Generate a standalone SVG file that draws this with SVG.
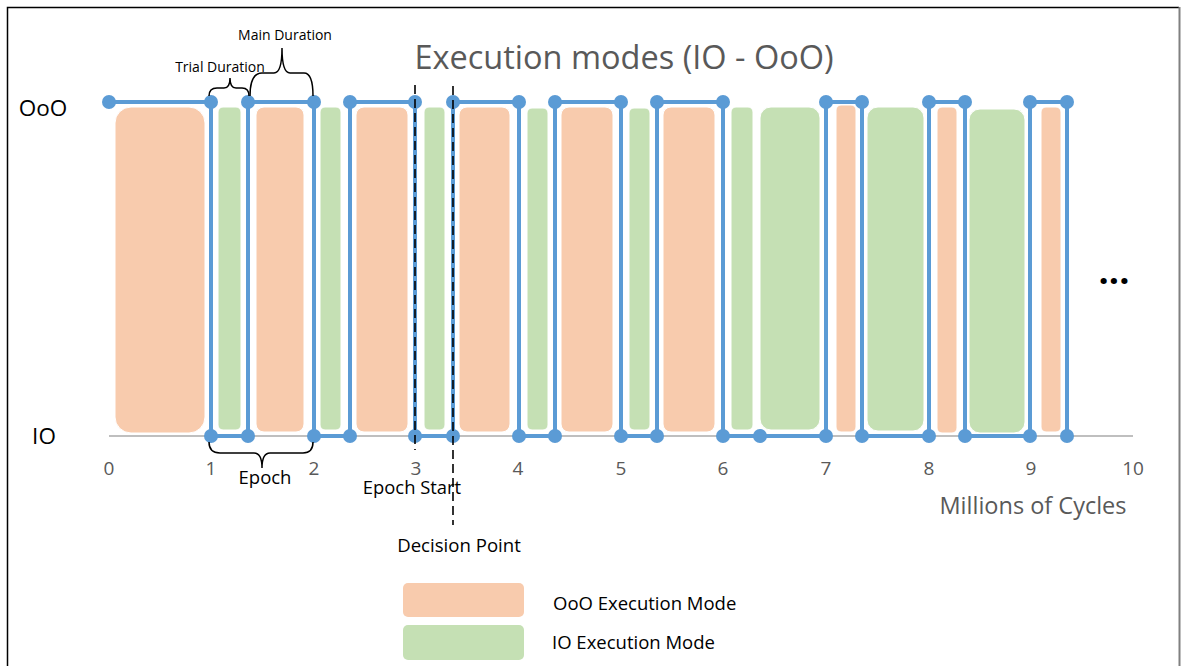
<svg xmlns="http://www.w3.org/2000/svg" width="1181" height="666" viewBox="0 0 1181 666">
<style>
.ooo{fill:#F8CBAD;stroke:#FFFFFF;stroke-width:1}
.io{fill:#C5E0B4;stroke:#FFFFFF;stroke-width:1}
.step{fill:none;stroke:#5B9BD5;stroke-width:4;stroke-linejoin:miter}
.dot{fill:#5B9BD5}
.brace{fill:none;stroke:#000;stroke-width:1.5}
.dash{fill:none;stroke:#000;stroke-width:1.6;stroke-dasharray:9 5}
.lbl{font-family:"Open Sans","Liberation Sans",sans-serif;fill:#000}
.gray{font-family:"Open Sans","Liberation Sans",sans-serif;fill:#595959}
</style>
<rect x="0" y="0" width="1181" height="666" fill="#FFFFFF"/>
<g id="frame">
<path d="M7.5,680 V7.5 H1179" fill="none" stroke="#000" stroke-width="1.5"/>
<line x1="1179.5" y1="7" x2="1179.5" y2="666" stroke="#808080" stroke-width="2"/>
</g>
<text id="title" class="gray" x="624" y="69" font-size="32.5" text-anchor="middle">Execution modes (IO - OoO)</text>
<g id="axis">
<line x1="109" y1="436" x2="1133" y2="436" stroke="#BFBFBF" stroke-width="2"/>
<g class="gray" font-size="19" text-anchor="middle">
<text x="109" y="475">0</text><text x="211" y="475">1</text><text x="314" y="475">2</text><text x="416" y="475">3</text><text x="518" y="475">4</text><text x="621" y="475">5</text><text x="723" y="475">6</text><text x="826" y="475">7</text><text x="929" y="475">8</text><text x="1031" y="475">9</text><text x="1133" y="475">10</text>
</g>
<text class="gray" x="1033" y="514" font-size="23.5" text-anchor="middle">Millions of Cycles</text>
<text class="lbl" x="43" y="116" font-size="22.5" text-anchor="middle">OoO</text>
<text class="lbl" x="44" y="444" font-size="22.5" text-anchor="middle">IO</text>
</g>
<g id="blocks">
<rect class="ooo" x="115" y="107" width="90" height="326" rx="16"/>
<rect class="io" x="218" y="107" width="23" height="323" rx="5"/>
<rect class="ooo" x="256" y="107" width="48" height="325" rx="8"/>
<rect class="io" x="320" y="107" width="21" height="323" rx="5"/>
<rect class="ooo" x="356" y="107" width="52" height="325" rx="8"/>
<rect class="io" x="424" y="107" width="21" height="323" rx="5"/>
<rect class="ooo" x="459" y="107" width="51" height="325" rx="8"/>
<rect class="io" x="527" y="108" width="21" height="322" rx="5"/>
<rect class="ooo" x="561" y="107" width="52" height="325" rx="8"/>
<rect class="io" x="629" y="108" width="21" height="322" rx="5"/>
<rect class="ooo" x="663" y="107" width="52" height="325" rx="8"/>
<rect class="io" x="731" y="107" width="22" height="323" rx="5"/>
<rect class="io" x="760" y="107" width="60" height="323" rx="11"/>
<rect class="ooo" x="836" y="105" width="20" height="327" rx="5"/>
<rect class="io" x="867" y="107" width="57" height="324" rx="11"/>
<rect class="ooo" x="937" y="107" width="20" height="326" rx="5"/>
<rect class="io" x="969" y="109" width="56" height="324" rx="11"/>
<rect class="ooo" x="1041" y="107" width="20" height="325" rx="5"/>
</g>
<g id="connectors">
<path class="step" d="M109,102 H211 V436 H248 V102 H314 V436 H350 V102 H415 V436 H453 V102 H519 V436 H555 V102 H621 V436 H657 V102 H723 V436 H826 V102 H862 V436 H929 V102 H965 V436 H1030 V102 H1067 V436"/>
</g>
<g id="dots" class="dot">
<circle cx="109" cy="102" r="7"/><circle cx="211" cy="102" r="7"/><circle cx="248" cy="102" r="7"/><circle cx="314" cy="102" r="7"/><circle cx="350" cy="102" r="7"/><circle cx="415" cy="102" r="7"/><circle cx="453" cy="102" r="7"/><circle cx="519" cy="102" r="7"/><circle cx="555" cy="102" r="7"/><circle cx="621" cy="102" r="7"/><circle cx="657" cy="102" r="7"/><circle cx="723" cy="102" r="7"/><circle cx="826" cy="102" r="7"/><circle cx="862" cy="102" r="7"/><circle cx="929" cy="102" r="7"/><circle cx="965" cy="102" r="7"/><circle cx="1030" cy="102" r="7"/><circle cx="1067" cy="102" r="7"/>
<circle cx="211" cy="436" r="7"/><circle cx="248" cy="436" r="7"/><circle cx="314" cy="436" r="7"/><circle cx="350" cy="436" r="7"/><circle cx="415" cy="436" r="7"/><circle cx="453" cy="436" r="7"/><circle cx="519" cy="436" r="7"/><circle cx="555" cy="436" r="7"/><circle cx="621" cy="436" r="7"/><circle cx="657" cy="436" r="7"/><circle cx="723" cy="436" r="7"/><circle cx="760" cy="436" r="7"/><circle cx="826" cy="436" r="7"/><circle cx="862" cy="436" r="7"/><circle cx="929" cy="436" r="7"/><circle cx="965" cy="436" r="7"/><circle cx="1030" cy="436" r="7"/><circle cx="1067" cy="436" r="7"/>
</g>
<g id="annotations">
<line class="dash" x1="415" y1="85" x2="415" y2="450"/>
<line class="dash" x1="453" y1="86" x2="453" y2="525"/>
<path class="brace" d="M209,96 Q209,88 217,88 H224 Q230,88 230,78 Q230,88 236,88 H242 Q249,88 249,96"/>
<path class="brace" d="M250,96 Q250,73 262,73 H274 Q282,73 282,48 Q282,73 290,73 H304 Q313,73 313,96"/>
<path class="brace" d="M209,442 Q209,453 220,453 H254 Q262,453 262,468 Q262,453 270,453 H303 Q313,453 313,442"/>
<text class="lbl" x="220" y="72" font-size="14" text-anchor="middle">Trial Duration</text>
<text class="lbl" x="285" y="40" font-size="14" text-anchor="middle">Main Duration</text>
<text class="lbl" x="265" y="484" font-size="18.5" text-anchor="middle">Epoch</text>
<text class="lbl" x="412" y="494" font-size="18.4" text-anchor="middle">Epoch Start</text>
<text class="lbl" x="459" y="552" font-size="18.6" text-anchor="middle">Decision Point</text>
<text class="lbl" x="1114" y="284" font-size="36" text-anchor="middle" font-weight="bold">...</text>
</g>
<g id="legend">
<rect x="403" y="583" width="121" height="34" rx="5" fill="#F8CBAD"/>
<rect x="403" y="625" width="121" height="35" rx="5" fill="#C5E0B4"/>
<text class="lbl" x="553" y="610" font-size="18.5">OoO Execution Mode</text>
<text class="lbl" x="552" y="649" font-size="18.5">IO Execution Mode</text>
</g>
</svg>
